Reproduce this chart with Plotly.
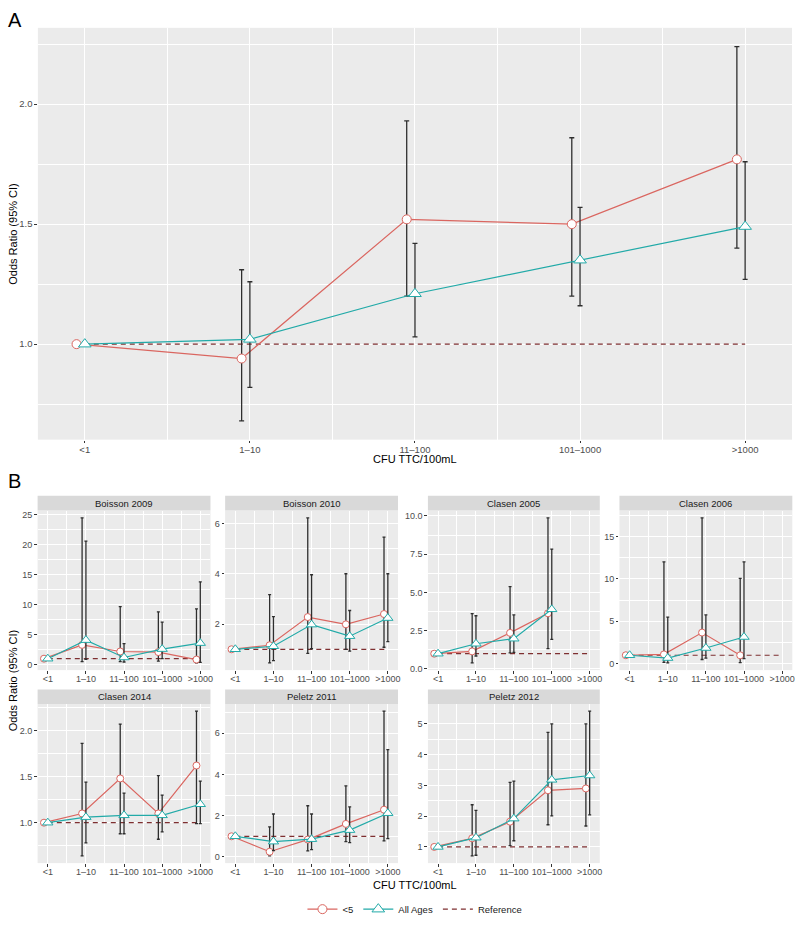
import plotly.graph_objects as go

categories = ["<1", "1\u201310", "11\u2013100", "101\u20131000", ">1000"]
xpos = [1, 2, 3, 4, 5]

# ---- Panel A (pooled) ----
a_u5_or = [1.0, 0.94, 1.52, 1.50, 1.77]
a_u5_lo = [None, 0.68, 1.20, 1.20, 1.40]
a_u5_hi = [None, 1.31, 1.93, 1.86, 2.24]
a_all_or = [1.0, 1.02, 1.21, 1.35, 1.49]
a_all_lo = [None, 0.82, 1.03, 1.16, 1.27]
a_all_hi = [None, 1.26, 1.42, 1.57, 1.76]

# ---- Panel B (by study) ----
studies = ["Boisson 2009", "Boisson 2010", "Clasen 2005", "Clasen 2006",
           "Clasen 2014", "Peletz 2011", "Peletz 2012"]

b09_u5_or = [1.0, 3.3, 2.2, 2.1, 0.85]
b09_u5_lo = [None, 0.5, 0.5, 0.6, 0.3]
b09_u5_hi = [None, 24.5, 9.7, 8.8, 9.3]
b09_all_or = [1.0, 4.1, 1.2, 2.6, 3.6]
b09_all_lo = [None, 0.9, 0.45, 1.0, 0.4]
b09_all_hi = [None, 20.6, 3.5, 7.1, 13.8]

b10_u5_or = [1.0, 1.16, 2.28, 1.99, 2.40]
b10_u5_lo = [None, 0.46, 0.84, 1.0, 1.08]
b10_u5_hi = [None, 3.17, 6.22, 4.0, 5.45]
b10_all_or = [1.0, 1.12, 1.98, 1.52, 2.24]
b10_all_lo = [None, 0.55, 1.02, 0.93, 1.30]
b10_all_hi = [None, 2.30, 3.96, 2.54, 4.0]

c05_u5_or = [1.0, 1.15, 2.36, 3.64, None]
c05_u5_lo = [None, 0.40, 1.05, 1.33, None]
c05_u5_hi = [None, 3.62, 5.38, 9.88, None]
c05_all_or = [1.0, 1.65, 1.98, 3.90, None]
c05_all_lo = [None, 0.85, 1.08, 1.93, None]
c05_all_hi = [None, 3.48, 3.54, 7.83, None]

c06_u5_or = [1.0, 1.1, 3.67, 0.99, None]
c06_u5_lo = [None, 0.15, 0.5, 0.12, None]
c06_u5_hi = [None, 12.0, 17.2, 10.07, None]
c06_all_or = [1.0, 0.67, 1.85, 3.15, None]
c06_all_lo = [None, 0.1, 0.67, 0.6, None]
c06_all_hi = [None, 5.5, 5.76, 12.0, None]

c14_u5_or = [1.0, 1.10, 1.48, 1.10, 1.62]
c14_u5_lo = [None, 0.64, 0.88, 0.82, 0.99]
c14_u5_hi = [None, 1.86, 2.07, 1.51, 2.21]
c14_all_or = [1.0, 1.06, 1.08, 1.08, 1.20]
c14_all_lo = [None, 0.78, 0.88, 0.90, 0.99]
c14_all_hi = [None, 1.44, 1.32, 1.30, 1.45]

p11_u5_or = [1.0, 0.25, 0.84, 1.60, 2.29]
p11_u5_lo = [None, 0.05, 0.29, 0.74, 0.78]
p11_u5_hi = [None, 1.46, 2.48, 3.45, 7.07]
p11_all_or = [1.0, 0.74, 0.86, 1.30, 2.12]
p11_all_lo = [None, 0.30, 0.35, 0.69, 0.89]
p11_all_hi = [None, 2.08, 2.08, 2.43, 5.20]

p12_u5_or = [1.0, 1.28, 1.82, 2.84, 2.90]
p12_u5_lo = [None, 0.71, 1.04, 1.72, 1.68]
p12_u5_hi = [None, 2.37, 3.10, 4.72, 5.00]
p12_all_or = [1.0, 1.30, 1.92, 3.18, 3.32]
p12_all_lo = [None, 0.73, 1.20, 2.01, 2.04]
p12_all_hi = [None, 2.19, 3.14, 5.00, 5.41]

study_data = {
    "Boisson 2009": (b09_u5_or, b09_u5_lo, b09_u5_hi, b09_all_or, b09_all_lo, b09_all_hi),
    "Boisson 2010": (b10_u5_or, b10_u5_lo, b10_u5_hi, b10_all_or, b10_all_lo, b10_all_hi),
    "Clasen 2005": (c05_u5_or, c05_u5_lo, c05_u5_hi, c05_all_or, c05_all_lo, c05_all_hi),
    "Clasen 2006": (c06_u5_or, c06_u5_lo, c06_u5_hi, c06_all_or, c06_all_lo, c06_all_hi),
    "Clasen 2014": (c14_u5_or, c14_u5_lo, c14_u5_hi, c14_all_or, c14_all_lo, c14_all_hi),
    "Peletz 2011": (p11_u5_or, p11_u5_lo, p11_u5_hi, p11_all_or, p11_all_lo, p11_all_hi),
    "Peletz 2012": (p12_u5_or, p12_u5_lo, p12_u5_hi, p12_all_or, p12_all_lo, p12_all_hi),
}

y_major = {
    "A": ([1.0, 1.5, 2.0], ["1.0", "1.5", "2.0"], [0.75, 1.25, 1.75, 2.25]),
    "Boisson 2009": ([0, 5, 10, 15, 20, 25], None, [2.5, 7.5, 12.5, 17.5, 22.5]),
    "Boisson 2010": ([2, 4, 6], None, [1, 3, 5]),
    "Clasen 2005": ([0, 2.5, 5, 7.5, 10], ["0.0", "2.5", "5.0", "7.5", "10.0"], [1.25, 3.75, 6.25, 8.75]),
    "Clasen 2006": ([0, 5, 10, 15], None, [2.5, 7.5, 12.5, 17.5]),
    "Clasen 2014": ([1.0, 1.5, 2.0], ["1.0", "1.5", "2.0"], [0.75, 1.25, 1.75, 2.25]),
    "Peletz 2011": ([0, 2, 4, 6], None, [1, 3, 5, 7]),
    "Peletz 2012": ([1, 2, 3, 4, 5], None, [0.5, 1.5, 2.5, 3.5, 4.5]),
}

RED = "#DA6660"
TEAL = "#22AAA8"
REF = "#7E2F30"
EBAR = "#2E2E2E"
PANEL = "#EBEBEB"
FONT = "Liberation Sans, Arial, sans-serif"

W, H = 800, 941
def px(x):
    return x / W
def py(y):
    return 1 - y / H

fig = go.Figure()
layout = dict(
    width=W, height=H, margin=dict(l=0, r=0, t=0, b=0),
    paper_bgcolor="white", plot_bgcolor=PANEL,
    font=dict(family=FONT, color="#1A1A1A"),
    showlegend=True,
    shapes=[], annotations=[],
)

def yrange(vals):
    v = [x for x in vals if x is not None] + [1.0]
    lo, hi = min(v), max(v)
    e = 0.05 * (hi - lo)
    return [lo - e, hi + e]

def diffs(orv, hiv, lov):
    up = [(h - o) if (h is not None and o is not None) else None for o, h in zip(orv, hiv)]
    dn = [(o - l) if (l is not None and o is not None) else None for o, l in zip(orv, lov)]
    return up, dn

def add_panel(idx, xdom, ydom, key, data, dodge, msize, capw, showlegend, xr, fs):
    xa = "xaxis" if idx == 1 else f"xaxis{idx}"
    ya = "yaxis" if idx == 1 else f"yaxis{idx}"
    xref = "x" if idx == 1 else f"x{idx}"
    yref = "y" if idx == 1 else f"y{idx}"
    u5_or, u5_lo, u5_hi, al_or, al_lo, al_hi = data
    tv, tt, minor = y_major[key]
    rng = yrange(u5_lo + u5_hi + al_lo + al_hi + u5_or + al_or)
    layout[xa] = dict(
        domain=xdom, anchor=yref, range=xr, tickmode="array", tickvals=xpos,
        ticktext=categories, tickangle=0, showgrid=True, gridcolor="white", gridwidth=1.1,
        zeroline=False, ticks="outside", ticklen=2.5, tickcolor="#333333", tickwidth=1,
        ticklabelstandoff=-2,
        tickfont=dict(size=fs, color="#4D4D4D", family=FONT), showline=False,
        minor=dict(tickvals=[1.5, 2.5, 3.5, 4.5], showgrid=True, gridcolor="white",
                   gridwidth=0.5, ticks=""),
        fixedrange=True,
    )
    ydict = dict(
        domain=ydom, anchor=xref, range=rng, tickmode="array", tickvals=tv,
        showgrid=True, gridcolor="white", gridwidth=1.1, zeroline=False,
        ticks="outside", ticklen=2.5, tickcolor="#333333", tickwidth=1,
        tickfont=dict(size=fs, color="#4D4D4D", family=FONT), showline=False,
        minor=dict(tickvals=minor, showgrid=True, gridcolor="white", gridwidth=0.5, ticks=""),
        fixedrange=True,
    )
    if tt is not None:
        ydict["ticktext"] = tt
    layout[ya] = ydict

    # reference line
    fig.add_trace(go.Scatter(
        x=xpos, y=[1.0] * len(xpos), mode="lines", name="Reference",
        line=dict(color=REF, width=1.2, dash="5px,4px"),
        xaxis=xref, yaxis=yref, showlegend=showlegend, legendrank=3, hoverinfo="skip"))
    # series
    for orv, lov, hiv, col, sym, nm, dx, rank, ms in [
        (u5_or, u5_lo, u5_hi, RED, "circle", "<5", dodge, 1, msize),
        (al_or, al_lo, al_hi, TEAL, "triangle-up", "All Ages", 0.0, 2, msize + 2),
    ]:
        up, dn = diffs(orv, hiv, lov)
        xs = [x + dx for x, o in zip(xpos, orv) if o is not None]
        ys = [o for o in orv if o is not None]
        up = [u for u, o in zip(up, orv) if o is not None]
        dn = [d for d, o in zip(dn, orv) if o is not None]
        up = [u if u is not None else float("nan") for u in up]
        dn = [d if d is not None else float("nan") for d in dn]
        fig.add_trace(go.Scatter(
            x=xs, y=ys, mode="lines+markers", name=nm,
            line=dict(color=col, width=1.2),
            marker=dict(symbol=sym, size=ms, color="white", line=dict(color=col, width=1)),
            error_y=dict(type="data", symmetric=False, array=up, arrayminus=dn,
                         color=EBAR, thickness=1.3, width=capw),
            xaxis=xref, yaxis=yref, showlegend=showlegend, legendrank=rank, hoverinfo="skip"))

# Panel A
add_panel(1, [px(38), px(794)], [py(441), py(27)], "A",
          (a_u5_or, a_u5_lo, a_u5_hi, a_all_or, a_all_lo, a_all_hi),
          -0.05, 9, 2.5, True, [0.716, 5.284], 9.5)

cols = [(37.7, 211), (225.7, 399), (429, 601.3), (621, 794.3)]
rows = [(512.3, 672.7, 497.3), (706.7, 866.7, 692.3)]
for i, st in enumerate(studies):
    r, c = divmod(i, 4)
    x0, x1 = cols[c]
    ytop, ybot, stop = rows[r]
    add_panel(i + 2, [px(x0), px(x1)], [py(ybot), py(ytop)], st, study_data[st],
              -0.1, 7, 1.5, False, [0.733, 5.267], 9)
    layout["shapes"].append(dict(type="rect", xref="paper", yref="paper",
                                 x0=px(x0), x1=px(x1), y0=py(ytop), y1=py(stop),
                                 fillcolor="#D9D9D9", line=dict(width=0), layer="above"))
    layout["annotations"].append(dict(text=st, xref="paper", yref="paper",
                                      x=px((x0 + x1) / 2), y=py((ytop + stop) / 2),
                                      showarrow=False, font=dict(size=9.5, color="#1A1A1A", family=FONT),
                                      xanchor="center", yanchor="middle"))

# labels
ann = layout["annotations"]
ann.append(dict(text="A", xref="paper", yref="paper", x=px(6), y=py(19), showarrow=False,
                font=dict(size=20, color="black", family=FONT), xanchor="left", yanchor="middle"))
ann.append(dict(text="B", xref="paper", yref="paper", x=px(6), y=py(483), showarrow=False,
                font=dict(size=20, color="black", family=FONT), xanchor="left", yanchor="middle"))
ann.append(dict(text="CFU TTC/100mL", xref="paper", yref="paper", x=px(416), y=py(460),
                showarrow=False, font=dict(size=11, color="black", family=FONT),
                xanchor="center", yanchor="middle"))
ann.append(dict(text="CFU TTC/100mL", xref="paper", yref="paper", x=px(416), y=py(889),
                showarrow=False, font=dict(size=11, color="black", family=FONT),
                xanchor="center", yanchor="middle"))
ann.append(dict(text="Odds Ratio (95% CI)", xref="paper", yref="paper", x=px(13), y=py(234),
                showarrow=False, textangle=-90, font=dict(size=11, color="black", family=FONT),
                xanchor="center", yanchor="middle"))
ann.append(dict(text="Odds Ratio (95% CI)", xref="paper", yref="paper", x=px(13), y=py(683),
                showarrow=False, textangle=-90, font=dict(size=11, color="black", family=FONT),
                xanchor="center", yanchor="middle"))

layout["legend"] = dict(orientation="h", x=0.52, xanchor="center", y=py(913), yanchor="middle",
                        font=dict(size=9.5, color="#1A1A1A", family=FONT),
                        bgcolor="rgba(0,0,0,0)", itemwidth=30, traceorder="normal")

fig.update_layout(**layout)
fig.write_html("out.html", config={"displayModeBar": False},
               post_script="document.body.style.margin='0px';")
